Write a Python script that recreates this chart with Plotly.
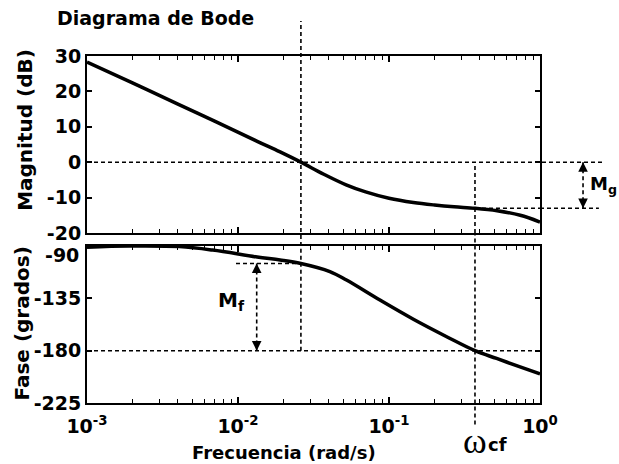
import numpy as np
import plotly.graph_objects as go

# Open-loop frequency response: magnitude (rad/s, dB)
freq_mag = [0.001, 0.002, 0.004, 0.007, 0.0134, 0.019, 0.0261, 0.037, 0.052, 0.07,
            0.1, 0.145, 0.2, 0.27, 0.371, 0.52, 0.74, 1.0]
mag_db = [28.3, 22.4, 16.4, 11.6, 5.9, 2.9, 0.0, -3.4, -6.4, -8.4,
          -10.2, -11.4, -12.1, -12.6, -13.0, -13.7, -15.0, -16.9]

# Open-loop frequency response: phase (rad/s, degrees)
freq_phase = [0.001, 0.0019, 0.0041, 0.0068, 0.0134, 0.019, 0.0261, 0.0406, 0.0523,
              0.0871, 0.145, 0.241, 0.371, 0.516, 0.738, 1.0]
phase_deg = [-91.0, -90.0, -90.5, -93.5, -99.5, -102.0, -105.0, -112.0, -119.3,
             -136.5, -153.0, -168.0, -180.0, -186.7, -194.0, -200.0]

# Stability margins
w_gc = 0.0261          # gain crossover frequency
w_cf = 0.371           # phase crossover frequency
mg_db = -13.0          # magnitude at w_cf
pm_phase = -105.0      # phase at w_gc
mf_line_start = 0.0097
mf_arrow_w = 0.0133

# Axes
x_ticks = [0.001, 0.01, 0.1, 1.0]
x_ticktext = ["10<sup>-3</sup>", "10<sup>-2</sup>", "10<sup>-1</sup>", "10<sup>0</sup>"]
mag_ticks = [30, 20, 10, 0, -10, -20]
phase_ticks = [-90, -135, -180, -225]
mag_range = [-20, 30]
phase_range = [-225, -90]
mag_dom = [0.490, 1.0]
phase_dom = [0.0, 0.4524]

FONT = "DejaVu Sans"
tickfont = dict(family=FONT, size=19, color="black", weight="bold")

fig = go.Figure()
fig.add_trace(go.Scatter(x=freq_mag, y=mag_db, mode="lines", xaxis="x", yaxis="y",
                         line=dict(color="black", width=3.5, shape="spline", smoothing=1.0),
                         showlegend=False, hoverinfo="skip"))
fig.add_trace(go.Scatter(x=freq_phase, y=phase_deg, mode="lines", xaxis="x2", yaxis="y2",
                         line=dict(color="black", width=3.5, shape="spline", smoothing=1.0),
                         showlegend=False, hoverinfo="skip"))

xcommon = dict(type="log", range=[-3, 0], showgrid=False, zeroline=False,
               showline=True, linecolor="black", linewidth=2, mirror="ticks",
               ticks="inside", ticklen=6, tickwidth=1.5, tickcolor="black",
               tickmode="array", tickvals=x_ticks, ticktext=x_ticktext,
               tickfont=tickfont,
               minor=dict(ticks="inside", ticklen=4, tickwidth=1.2, tickcolor="black",
                          dtick="D1", showgrid=False))
ycommon = dict(showgrid=False, zeroline=False, showline=True, linecolor="black",
               linewidth=2, mirror="ticks", ticks="inside", ticklen=5, tickwidth=1.5,
               tickcolor="black", tickmode="array", tickfont=tickfont)

# the -90 label sits a little below its tick, drawn separately
phase_ticktext = ["" if v == -90 else str(v) for v in phase_ticks]

fig.update_layout(
    width=619, height=464,
    margin=dict(l=87, r=79, t=56, b=61),
    paper_bgcolor="white", plot_bgcolor="white",
    xaxis=dict(xcommon, anchor="y", domain=[0, 1], showticklabels=False),
    xaxis2=dict(xcommon, anchor="y2", domain=[0, 1], matches="x", ticklabelstandoff=5),
    yaxis=dict(ycommon, anchor="x", domain=mag_dom, range=mag_range,
               tickvals=mag_ticks, ticktext=[str(v) for v in mag_ticks]),
    yaxis2=dict(ycommon, anchor="x2", domain=phase_dom, range=phase_range,
                tickvals=phase_ticks, ticktext=phase_ticktext),
)

dash = dict(color="black", width=1.6, dash="4px,3px")
shapes = [
    # 0 dB reference, extended to the margin annotation
    dict(type="line", xref="paper", yref="y", x0=0, x1=1.139, y0=0, y1=0, line=dash),
    # -180 deg reference
    dict(type="line", xref="paper", yref="y2", x0=0, x1=1, y0=-180, y1=-180, line=dash),
    # gain crossover vertical
    dict(type="line", xref="x", yref="y2", x0=w_gc, x1=w_gc, y0=-180, y1=-90, line=dash),
    dict(type="line", xref="x", yref="paper", x0=w_gc, x1=w_gc,
         y0=phase_dom[1], y1=1.1009, line=dash),
    # phase crossover vertical
    dict(type="line", xref="x", yref="y", x0=w_cf, x1=w_cf, y0=-20, y1=0, line=dash),
    dict(type="line", xref="x", yref="paper", x0=w_cf, x1=w_cf,
         y0=-0.062, y1=mag_dom[0], line=dash),
    # gain-margin level
    dict(type="line", xref="x", yref="y", x0=w_cf, x1=1.0, y0=mg_db, y1=mg_db, line=dash),
    dict(type="line", xref="paper", yref="y", x0=1.0, x1=1.130, y0=mg_db, y1=mg_db, line=dash),
    # phase-margin level
    dict(type="line", xref="x", yref="y2", x0=mf_line_start, x1=w_gc,
         y0=pm_phase, y1=pm_phase, line=dash),
    # margin arrows (shafts)
    dict(type="line", xref="paper", yref="y", x0=1.095, x1=1.095, y0=0, y1=mg_db, line=dash),
    dict(type="line", xref="x", yref="y2", x0=mf_arrow_w, x1=mf_arrow_w,
         y0=pm_phase, y1=-180, line=dash),
]
fig.update_layout(shapes=shapes)

ann = []
def head(x, y, xref, yref, up):
    ann.append(dict(x=x, y=y, xref=xref, yref=yref, text="", showarrow=True,
                    ax=0, ay=7 if up else -7, arrowhead=2, arrowsize=1.2,
                    arrowwidth=1.6, arrowcolor="black", standoff=0))

head(1.095, 0, "paper", "y", True)
head(1.095, mg_db, "paper", "y", False)
head(np.log10(mf_arrow_w), pm_phase, "x2", "y2", True)
head(np.log10(mf_arrow_w), -180, "x2", "y2", False)

lab = dict(family=FONT, color="black", weight="bold")
ann += [
    dict(text="-90", xref="paper", yref="y2", x=0, y=-90, xanchor="right",
         yanchor="middle", xshift=-6, yshift=-9, showarrow=False, font=tickfont),
    dict(text="Diagrama de Bode", xref="paper", yref="paper", x=0.152, y=1.1095,
         xanchor="center", yanchor="middle", showarrow=False, font=dict(lab, size=19)),
    dict(text="Magnitud (dB)", xref="paper", yref="paper", x=-0.137, y=0.787,
         xanchor="center", yanchor="middle", textangle=-90, showarrow=False,
         font=dict(lab, size=20)),
    dict(text="Fase (grados)", xref="paper", yref="paper", x=-0.1435, y=0.229,
         xanchor="center", yanchor="middle", textangle=-90, showarrow=False,
         font=dict(lab, size=20)),
    dict(text="Frecuencia (rad/s)", xref="paper", yref="paper", x=0.435, y=-0.144,
         xanchor="center", yanchor="middle", showarrow=False, font=dict(lab, size=18)),
    dict(text="M<sub>g</sub>", xref="paper", yref="y", x=1.095, y=mg_db / 2,
         xanchor="left", yanchor="middle", xshift=5, showarrow=False,
         font=dict(lab, size=18)),
    dict(text="M<sub>f</sub>", xref="x2", yref="y2", x=np.log10(mf_arrow_w),
         y=(pm_phase - 180) / 2, xanchor="right", yanchor="middle", xshift=-10, yshift=6,
         showarrow=False, font=dict(lab, size=20)),
    dict(text="ω", xref="x2", yref="paper", x=np.log10(w_cf), y=-0.1095,
         xanchor="center", yanchor="middle", showarrow=False,
         font=dict(family="Liberation Serif", size=36, color="black")),
    dict(text="cf", xref="x2", yref="paper", x=np.log10(w_cf), y=-0.121,
         xanchor="left", yanchor="middle", xshift=11, showarrow=False,
         font=dict(lab, size=18)),
]
fig.update_layout(annotations=ann)

fig.write_html("out.html")
